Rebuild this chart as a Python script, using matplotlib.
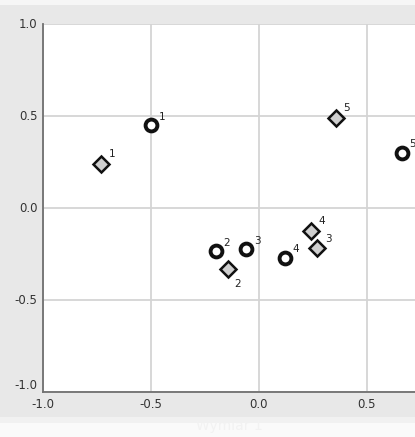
import matplotlib
matplotlib.use("Agg")
import matplotlib.pyplot as plt
from matplotlib.patches import Rectangle

# Data
circle_labels = ["1", "2", "3", "4", "5"]
circle_x = [-0.50, -0.20, -0.06, 0.12, 0.66]
circle_y = [0.45, -0.235, -0.225, -0.27, 0.30]

diamond_labels = ["1", "2", "3", "4", "5"]
diamond_x = [-0.73, -0.145, 0.27, 0.24, 0.355]
diamond_y = [0.24, -0.33, -0.22, -0.125, 0.49]

xticks = [-1.0, -0.5, 0.0, 0.5]
yticks = [-1.0, -0.5, 0.0, 0.5, 1.0]
xlabel = "Wymiar 1"

W, H = 415, 437
fig = plt.figure(figsize=(W / 100, H / 100), dpi=100, facecolor="#e8e8e8")
# top light band and bottom fade
fig.add_artist(Rectangle((0, 1 - 5 / H), 1, 5 / H, transform=fig.transFigure,
                         facecolor="#f6f6f6", edgecolor="none", zorder=0))
fig.add_artist(Rectangle((0, 0), 1, 14 / H, transform=fig.transFigure,
                         facecolor="#fafafa", edgecolor="none", zorder=0))
fig.add_artist(Rectangle((0, 14 / H), 1, 6 / H, transform=fig.transFigure,
                         facecolor="#f1f1f1", edgecolor="none", zorder=0))

ax = fig.add_axes([43 / W, 1 - 392 / H, 1 - 43 / W, (392 - 24) / H])
ax.set_facecolor("white")
ax.set_xlim(-1.0, (415 - 43) / 216 - 1.0)
ax.set_ylim(-1.0, 1.0)

ax.set_xticks(xticks)
ax.set_yticks(yticks)
ax.set_xticklabels([f"{v:.1f}" for v in xticks])
ax.set_yticklabels([f"{v:.1f}" for v in yticks])
ax.tick_params(length=0, labelsize=8.5, colors="#333333", pad=4)
for lab in ax.get_yticklabels():
    lab.set_verticalalignment("bottom" if lab.get_text() == "-1.0" else "center")
ax.grid(True, color="#d4d4d4", linewidth=1.3)
ax.set_axisbelow(True)
for s in ["top", "right"]:
    ax.spines[s].set_visible(False)
for s in ["left", "bottom"]:
    ax.spines[s].set_color("#707070")
    ax.spines[s].set_linewidth(1.3)

ax.set_xlabel(xlabel, color="#f2f2f2", fontsize=10, labelpad=6)

ax.plot(circle_x, circle_y, linestyle="none", marker="o", markersize=8.5,
        markerfacecolor="white", markeredgecolor="#111111", markeredgewidth=2.8,
        zorder=3, clip_on=False)
ax.plot(diamond_x, diamond_y, linestyle="none", marker="D", markersize=8,
        markerfacecolor="#cfcfcf", markeredgecolor="#111111", markeredgewidth=1.8,
        zorder=3)

for lab, x, y in zip(circle_labels, circle_x, circle_y):
    ax.annotate(lab, (x, y), xytext=(8, 6), textcoords="offset points",
                fontsize=7.5, color="#222222", va="center", ha="center",
                annotation_clip=False)
for lab, x, y in zip(diamond_labels, diamond_x, diamond_y):
    off = (7, -11) if lab == "2" else (8, 7)
    ax.annotate(lab, (x, y), xytext=off, textcoords="offset points",
                fontsize=7.5, color="#222222", va="center", ha="center")

fig.savefig("out.png", dpi=100, facecolor=fig.get_facecolor())
